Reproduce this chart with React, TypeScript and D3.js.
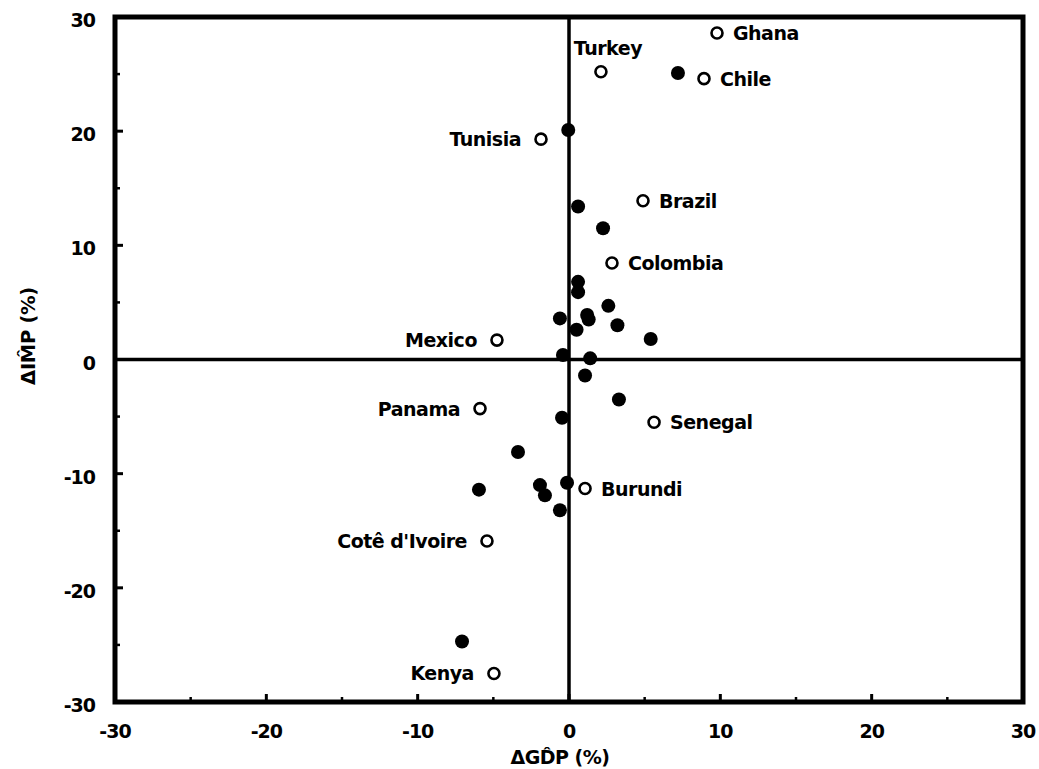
import React from "react";
import * as d3 from "d3";

// Labelled countries (open circles)
const countries = ["Ghana", "Turkey", "Chile", "Tunisia", "Brazil", "Colombia", "Mexico", "Panama", "Senegal", "Burundi", "Cotê d'Ivoire", "Kenya"];
const countryGDP = [9.78, 2.11, 8.92, -1.85, 4.89, 2.84, -4.76, -5.88, 5.62, 1.06, -5.42, -4.96];
const countryIMP = [28.6, 25.2, 24.6, 19.3, 13.9, 8.45, 1.7, -4.3, -5.5, -11.3, -15.9, -27.5];
const labelSide = ["right", "above", "right", "left", "right", "right", "left", "left", "right", "right", "left", "left"];

// Unlabelled observations (filled circles)
const otherGDP = [7.2, -0.05, 0.6, 2.25, 0.6, 0.6, 2.6, -0.6, 1.2, 1.3, 3.2, 0.5, 5.4, -0.4, 1.4, 1.06, 3.3, -0.46, -3.37, -5.95, -1.92, -1.59, -0.13, -0.6, -7.07];
const otherIMP = [25.1, 20.1, 13.4, 11.5, 6.8, 5.9, 4.7, 3.6, 3.9, 3.5, 3.0, 2.6, 1.8, 0.4, 0.1, -1.4, -3.5, -5.1, -8.1, -11.4, -11.0, -11.9, -10.8, -13.2, -24.7];

const majorTicks = [-30, -20, -10, 0, 10, 20, 30];
const minorTicks = [-25, -15, -5, 5, 15, 25];

const xTitle = "\u0394GD\u0302P (%)";
const yTitle = "\u0394IM\u0302P (%)";

const FONT = "'DejaVu Sans', Verdana, sans-serif";

export default function App() {
  const W = 1039, H = 769;
  const x = d3.scaleLinear().domain([-30, 30]).range([115, 1023]);
  const y = d3.scaleLinear().domain([-30, 30]).range([702, 17]);
  const [x0, x1] = x.range();
  const [y0, y1] = y.range();

  return (
    <svg width={W} height={H} style={{ position: "absolute", left: 0, top: 0, background: "#fff" }} fontFamily={FONT}>
      <rect x={0} y={0} width={W} height={H} fill="#fff" />
      {/* zero lines */}
      <line x1={x(0)} x2={x(0)} y1={y1} y2={y0} stroke="#000" strokeWidth={3.5} />
      <line x1={x0} x2={x1} y1={y(0)} y2={y(0)} stroke="#000" strokeWidth={3.5} />
      {/* frame */}
      <rect x={x0} y={y1} width={x1 - x0} height={y0 - y1} fill="none" stroke="#000" strokeWidth={5} />
      {/* ticks */}
      {majorTicks.map((t) => (
        <g key={"mt" + t}>
          <line x1={x(t)} x2={x(t)} y1={y0} y2={y0 - 8} stroke="#000" strokeWidth={3} />
          <line x1={x0} x2={x0 + 8} y1={y(t)} y2={y(t)} stroke="#000" strokeWidth={3} />
        </g>
      ))}
      {minorTicks.map((t) => (
        <g key={"nt" + t}>
          <line x1={x(t)} x2={x(t)} y1={y0} y2={y0 - 5} stroke="#000" strokeWidth={2.5} />
          <line x1={x0} x2={x0 + 5} y1={y(t)} y2={y(t)} stroke="#000" strokeWidth={2.5} />
        </g>
      ))}
      {/* tick labels */}
      {majorTicks.map((t) => (
        <text key={"xl" + t} x={x(t)} y={y0 + 36} textAnchor="middle" fontSize={19} fontWeight="bold" letterSpacing={-1}>
          {String(t)}
        </text>
      ))}
      {majorTicks.map((t) => (
        <text key={"yl" + t} x={95} y={y(t) + 10} textAnchor="end" fontSize={19} fontWeight="bold" letterSpacing={-1}>
          {String(t)}
        </text>
      ))}
      {/* axis titles */}
      <text x={560} y={764} textAnchor="middle" fontSize={19} fontWeight="bold" letterSpacing={-0.5}>{xTitle}</text>
      <text transform={`translate(35,336) rotate(-90)`} textAnchor="middle" fontSize={19.5} fontWeight="bold" letterSpacing={-0.3}>{yTitle}</text>
      {/* filled points */}
      {otherGDP.map((g, i) => (
        <circle key={"f" + i} cx={x(g)} cy={y(otherIMP[i])} r={7} fill="#000" />
      ))}
      {/* open points */}
      {countryGDP.map((g, i) => (
        <circle key={"o" + i} cx={x(g)} cy={y(countryIMP[i])} r={5.5} fill="#fff" stroke="#000" strokeWidth={2.6} />
      ))}
      {/* labels */}
      {countries.map((c, i) => {
        const cx = x(countryGDP[i]);
        const cy = y(countryIMP[i]);
        const side = labelSide[i];
        const tx = side === "right" ? cx + 16 : side === "left" ? cx - 20 : cx + 7;
        const ty = side === "above" ? cy - 17 : cy + 7;
        const anchor = side === "right" ? "start" : side === "left" ? "end" : "middle";
        return (
          <text key={"t" + i} x={tx} y={ty} textAnchor={anchor} fontSize={19} fontWeight="bold" letterSpacing={-0.5}>
            {c}
          </text>
        );
      })}
    </svg>
  );
}
